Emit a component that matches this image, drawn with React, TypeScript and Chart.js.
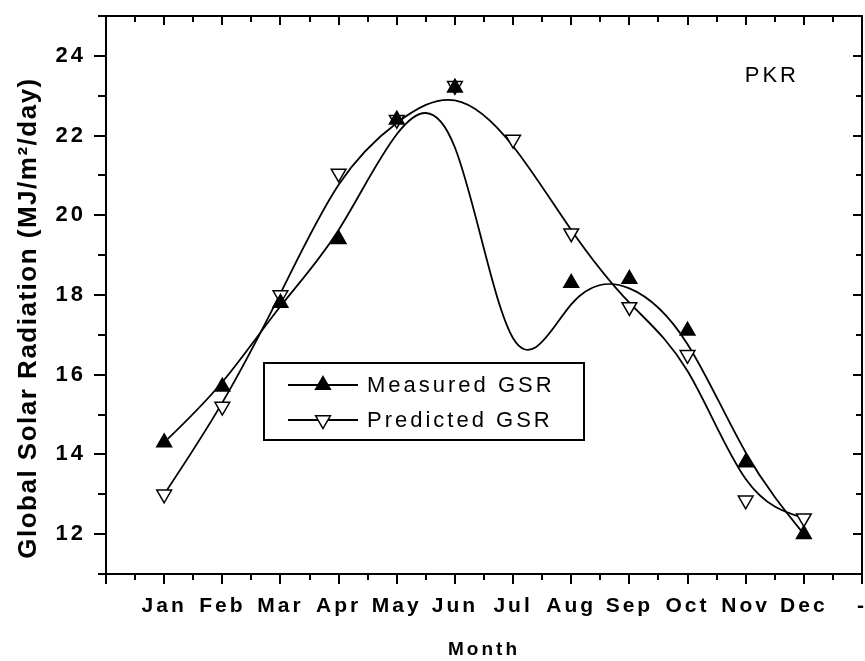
import React, { useEffect, useRef } from 'react';
import { Chart, registerables } from 'chart.js';

Chart.register(...registerables);

const months = ['Jan', 'Feb', 'Mar', 'Apr', 'May', 'Jun', 'Jul', 'Aug', 'Sep', 'Oct', 'Nov', 'Dec'];
const monthIndex = [0, 1, 2, 3, 4, 5, 6, 7, 8, 9, 10, 11];
// Jul measured value sits behind the legend box in the reference
const measuredGSR = [14.3, 15.7, 17.8, 19.4, 22.4, 23.2, 15.0, 18.3, 18.4, 17.1, 13.8, 12.0];
const predictedGSR = [13.0, 15.2, 18.0, 21.05, 22.4, 23.25, 21.9, 19.55, 17.7, 16.5, 12.85, 12.4];
const yTickValues = [12, 14, 16, 18, 20, 22, 24];
const seriesLabels = ['Measured GSR', 'Predicted GSR'];
const stationLabel = 'PKR';
const xTitle = 'Month';
const yTitle = 'Global Solar Radiation (MJ/m\u00B2/day)';

const FONT = "'Liberation Sans', Arial, sans-serif";

function bsplinePath(ctx: CanvasRenderingContext2D, P: { x: number; y: number }[]) {
  const n = P.length;
  if (n < 2) return;
  const Q = [
    { x: 2 * P[0].x - P[1].x, y: 2 * P[0].y - P[1].y },
    ...P,
    { x: 2 * P[n - 1].x - P[n - 2].x, y: 2 * P[n - 1].y - P[n - 2].y },
  ];
  const S = (k: number) => ({
    x: (Q[k - 1].x + 4 * Q[k].x + Q[k + 1].x) / 6,
    y: (Q[k - 1].y + 4 * Q[k].y + Q[k + 1].y) / 6,
  });
  const s0 = S(1);
  ctx.moveTo(s0.x, s0.y);
  for (let k = 1; k < n; k++) {
    const b1 = { x: (2 * Q[k].x + Q[k + 1].x) / 3, y: (2 * Q[k].y + Q[k + 1].y) / 3 };
    const b2 = { x: (Q[k].x + 2 * Q[k + 1].x) / 3, y: (Q[k].y + 2 * Q[k + 1].y) / 3 };
    const e = S(k + 1);
    ctx.bezierCurveTo(b1.x, b1.y, b2.x, b2.y, e.x, e.y);
  }
}

function drawTri(ctx: CanvasRenderingContext2D, x: number, y: number, r: number, down: boolean, fill: string) {
  ctx.beginPath();
  for (let i = 0; i < 3; i++) {
    const a = (down ? Math.PI / 2 : -Math.PI / 2) + (i * 2 * Math.PI) / 3;
    const px = x + r * Math.cos(a);
    const py = y + r * Math.sin(a);
    if (i === 0) ctx.moveTo(px, py);
    else ctx.lineTo(px, py);
  }
  ctx.closePath();
  ctx.fillStyle = fill;
  ctx.fill();
  ctx.lineWidth = 1.5;
  ctx.strokeStyle = '#000';
  ctx.stroke();
}

const decorPlugin = {
  id: 'decor',
  beforeDraw(chart: any) {
    chart.ctx.letterSpacing = '3px';
  },
  beforeDatasetsDraw(chart: any) {
    const ctx = chart.ctx as CanvasRenderingContext2D;
    const ca = chart.chartArea;
    ctx.save();
    ctx.beginPath();
    ctx.rect(ca.left, ca.top, ca.right - ca.left, ca.bottom - ca.top);
    ctx.clip();
    chart.data.datasets.forEach((_ds: any, di: number) => {
      const meta = chart.getDatasetMeta(di);
      const P = meta.data.map((e: any) => ({ x: e.x, y: e.y }));
      ctx.beginPath();
      bsplinePath(ctx, P);
      ctx.lineWidth = 1.8;
      ctx.strokeStyle = '#000';
      ctx.lineJoin = 'round';
      ctx.stroke();
    });
    ctx.restore();
  },
  afterDatasetsDraw(chart: any) {
    const ctx = chart.ctx as CanvasRenderingContext2D;
    const ca = chart.chartArea;
    ctx.save();
    // legend box (opaque, as in the reference)
    const lx = ca.left + 158;
    const ly = ca.top + 347;
    const lw = 320;
    const lh = 77;
    ctx.fillStyle = '#fff';
    ctx.fillRect(lx, ly, lw, lh);
    ctx.lineWidth = 2;
    ctx.strokeStyle = '#000';
    ctx.strokeRect(lx, ly, lw, lh);
    const rows = [ly + 22, ly + 57];
    rows.forEach((ry, i) => {
      ctx.beginPath();
      ctx.moveTo(lx + 24, ry);
      ctx.lineTo(lx + 94, ry);
      ctx.lineWidth = 1.8;
      ctx.strokeStyle = '#000';
      ctx.stroke();
      drawTri(ctx, lx + 59, ry, 8.5, i === 1, i === 0 ? '#000' : '#fff');
      ctx.fillStyle = '#000';
      ctx.font = `22px ${FONT}`;
      (ctx as any).letterSpacing = '3px';
      ctx.textAlign = 'left';
      ctx.textBaseline = 'middle';
      ctx.fillText(seriesLabels[i], lx + 103, ry + 1);
    });
    ctx.restore();
  },
  afterDraw(chart: any) {
    const ctx = chart.ctx as CanvasRenderingContext2D;
    const ca = chart.chartArea;
    const xs = chart.scales.x;
    const ys = chart.scales.y;
    ctx.save();
    ctx.strokeStyle = '#000';
    ctx.lineWidth = 2;
    ctx.strokeRect(ca.left, ca.top, ca.right - ca.left, ca.bottom - ca.top);
    ctx.beginPath();
    for (let v = xs.min; v <= xs.max + 1e-6; v += 0.5) {
      const x = Math.round(xs.getPixelForValue(v));
      const major = Math.abs(v - Math.round(v)) < 1e-6;
      ctx.moveTo(x, ca.bottom);
      ctx.lineTo(x, ca.bottom + (major ? 10 : 6));
      ctx.moveTo(x, ca.top);
      ctx.lineTo(x, ca.top + (major ? 9 : 6));
    }
    for (let v = ys.min; v <= ys.max + 1e-6; v += 1) {
      const y = Math.round(ys.getPixelForValue(v));
      const major = v % 2 === 0;
      ctx.moveTo(ca.left, y);
      ctx.lineTo(ca.left - (major ? 12 : 8), y);
      ctx.moveTo(ca.right, y);
      ctx.lineTo(ca.right - (major ? 9 : 6), y);
    }
    ctx.stroke();

    // station label
    ctx.fillStyle = '#000';
    ctx.font = `22px ${FONT}`;
    (ctx as any).letterSpacing = '3px';
    ctx.textAlign = 'center';
    ctx.textBaseline = 'middle';
    ctx.fillText(stationLabel, xs.getPixelForValue(10.45), ys.getPixelForValue(23.5));

    // y axis title
    ctx.translate(29, (ca.top + ca.bottom) / 2 + 23);
    ctx.rotate(-Math.PI / 2);
    ctx.font = `bold 26px ${FONT}`;
    (ctx as any).letterSpacing = '1.5px';
    ctx.fillText(yTitle, 0, 0);
    ctx.restore();
  },
};

export default function App() {
  const ref = useRef<HTMLCanvasElement | null>(null);

  useEffect(() => {
    if (!ref.current) return;
    const chart = new Chart(ref.current, {
      type: 'line',
      data: {
        datasets: [
          {
            label: seriesLabels[0],
            data: monthIndex.map((m, i) => ({ x: m, y: measuredGSR[i] })),
            showLine: false,
            pointStyle: 'triangle',
            pointRotation: 0,
            pointRadius: 8.5,
            pointBackgroundColor: '#000',
            pointBorderColor: '#000',
            pointBorderWidth: 1.5,
          },
          {
            label: seriesLabels[1],
            data: monthIndex.map((m, i) => ({ x: m, y: predictedGSR[i] })),
            showLine: false,
            pointStyle: 'triangle',
            pointRotation: 180,
            pointRadius: 8.5,
            pointBackgroundColor: '#fff',
            pointBorderColor: '#000',
            pointBorderWidth: 1.5,
          },
        ],
      },
      options: {
        responsive: false,
        animation: false,
        devicePixelRatio: 1,
        layout: { padding: { top: 16, right: 3, left: 0, bottom: 0 } },
        plugins: { legend: { display: false }, tooltip: { enabled: false } },
        scales: {
          x: {
            type: 'linear',
            min: -1,
            max: 12,
            grid: { display: false, drawTicks: false },
            border: { display: false },
            ticks: {
              stepSize: 1,
              autoSkip: false,
              maxRotation: 0,
              minRotation: 0,
              padding: 20,
              color: '#000',
              font: { family: FONT, size: 21, weight: 'bold' },
              callback: (v: any) => {
                const i = Number(v);
                if (i >= 0 && i < months.length) return months[i];
                if (i === 12) return '-';
                return '';
              },
            },
            title: {
              display: true,
              text: xTitle,
              color: '#000',
              font: { family: FONT, size: 19, weight: 'bold' },
              padding: { top: 0, bottom: 0 },
            },
            afterFit: (s: any) => {
              s.height = 87;
              s.paddingLeft = 0;
              s.paddingRight = 0;
            },
          },
          y: {
            min: 11,
            max: 25,
            grid: { display: false, drawTicks: false },
            border: { display: false },
            ticks: {
              stepSize: 1,
              padding: 20,
              color: '#000',
              font: { family: FONT, size: 22, weight: 'bold' },
              callback: (v: any) => (yTickValues.includes(Number(v)) ? String(v) : ''),
            },
            afterFit: (s: any) => {
              s.width = 106;
              s.paddingTop = 0;
              s.paddingBottom = 0;
            },
          },
        },
      },
      plugins: [decorPlugin],
    });
    return () => chart.destroy();
  }, []);

  return (
    <div
      style={{
        position: 'absolute',
        left: 0,
        top: 0,
        width: 865,
        height: 661,
        overflow: 'hidden',
        background: '#fff',
      }}
    >
      <canvas ref={ref} width={872} height={661} />
    </div>
  );
}
